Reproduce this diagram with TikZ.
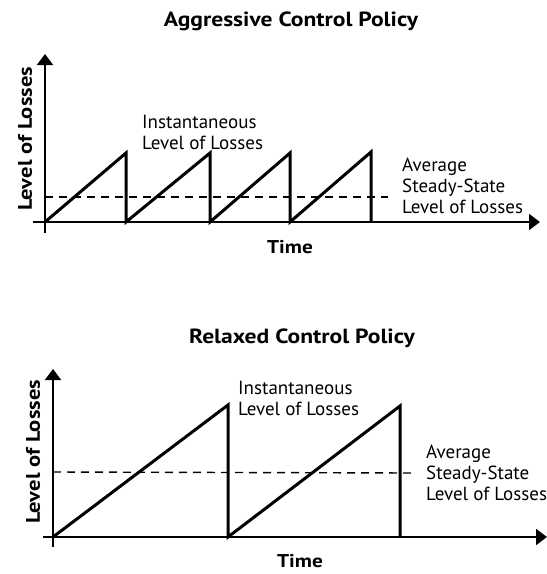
\documentclass[tikz,border=0pt]{standalone}
\usepackage{fontspec}
\setmainfont{PT Sans}
\newfontfamily\bfam[FakeStretch=1.15]{PT Sans}
\usetikzlibrary{arrows.meta}
\begin{document}
\begin{tikzpicture}[x=1pt,y=-1pt,
  axis/.style={line width=2pt,-{Triangle[width=16pt,length=11pt]}},
  tick/.style={line width=2pt},
  saw/.style={line width=3pt,line join=miter},
  avg/.style={line width=1.4pt,dash pattern=on 8pt off 6pt},
  lbl/.style={inner sep=0pt,align=left,anchor=west,font=\fontsize{19}{21}\selectfont},
  ttl/.style={inner sep=0pt,font=\fontsize{20.5}{24}\bfam\bfseries},
  tim/.style={inner sep=0pt,font=\fontsize{18.5}{22}\bfam\bfseries},
  ylbl/.style={inner sep=0pt,rotate=90,font=\fontsize{19.6}{24}\bfam\bfseries}]
\useasboundingbox (0,0) rectangle (547,574);
% ---------- Top chart ----------
\node[ttl] (t1) at (291,21) {Aggressive Control Policy};
\coordinate (o1) at (45,222);
\coordinate (yb1) at (45,233);
\coordinate (yt1) at (45,54);
\coordinate (xl1) at (33,222);
\coordinate (xr1) at (540,222);
\draw[tick] (yb1) -- (o1);
\draw[axis] (o1) -- (yt1);
\draw[axis] (xl1) -- (xr1);
\coordinate (p11) at (126,153); \coordinate (b11) at (126,222);
\coordinate (p12) at (210,153); \coordinate (b12) at (210,222);
\coordinate (p13) at (290,153); \coordinate (b13) at (290,222);
\coordinate (p14) at (371,152); \coordinate (b14) at (371,222);
\draw[saw] (o1) -- (p11) -- (b11) -- (p12) -- (b12) -- (p13) -- (b13) -- (p14) -- (b14);
\coordinate (d1a) at (45,197);
\coordinate (d1b) at (388,197);
\draw[avg] (d1a) -- (d1b);
\node[lbl] (i1) at (142,132) {Instantaneous\\Level of Losses};
\node[lbl] (a1) at (402,186) {Average\\Steady-State\\Level of Losses};
\node[tim] (x1) at (290,247) {Time};
\node[ylbl] (y1) at (25,139) {Level of Losses};
% ---------- Bottom chart ----------
\node[ttl] (t2) at (302,338) {Relaxed Control Policy};
\coordinate (o2) at (53,537);
\coordinate (yb2) at (53,547);
\coordinate (yt2) at (53,369);
\coordinate (xl2) at (43,537);
\coordinate (xr2) at (547,537);
\draw[tick] (yb2) -- (o2);
\draw[axis] (o2) -- (yt2);
\draw[axis] (xl2) -- (xr2);
\coordinate (p21) at (228,405); \coordinate (b21) at (228,537);
\coordinate (p22) at (400,406); \coordinate (b22) at (400,537);
\draw[saw] (o2) -- (p21) -- (b21) -- (p22) -- (b22);
\coordinate (d2a) at (53,472);
\coordinate (d2b) at (413,473);
\draw[avg] (d2a) -- (d2b);
\node[lbl] (i2) at (238,398) {Instantaneous\\Level of Losses};
\node[lbl] (a2) at (426,473) {Average\\Steady-State\\Level of Losses};
\node[tim] (x2) at (300,561) {Time};
\node[ylbl] (y2) at (33,452) {Level of Losses};
\end{tikzpicture}
\end{document}
